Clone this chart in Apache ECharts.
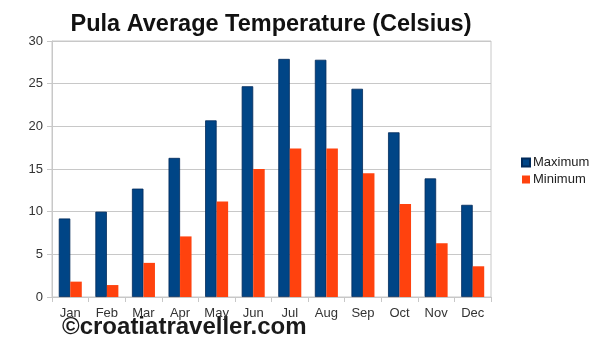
<!DOCTYPE html>
<html><head><meta charset="utf-8">
<script src="https://cdn.jsdelivr.net/npm/echarts@6/dist/echarts.min.js"></script>
<style>html,body{margin:0;padding:0;background:#fff}#c{width:600px;height:345px}</style>
</head><body><div id="c"></div>
<script>
var months = ['Jan','Feb','Mar','Apr','May','Jun','Jul','Aug','Sep','Oct','Nov','Dec'];
var maxTemp = [9.2, 10.0, 12.7, 16.3, 20.7, 24.7, 27.9, 27.8, 24.4, 19.3, 13.9, 10.8];
var minTemp = [1.8, 1.4, 4.0, 7.1, 11.2, 15.0, 17.4, 17.4, 14.5, 10.9, 6.3, 3.6];
var yTicks = [0, 5, 10, 15, 20, 25, 30];

var chart = echarts.init(document.getElementById('c'), null, {renderer:'canvas'});
chart.setOption({
  animation:false,
  backgroundColor:'#fff',
  title:{text:'Pula Average Temperature (Celsius)', left:266, top:8, textAlign:'center',
    textStyle:{fontFamily:'Liberation Sans', fontWeight:'bold', fontSize:23.5, color:'#111'}},
  graphic:[{type:'text', left:62, top:315, style:{text:'\u00a9croatiatraveller.com',
    font:'bold 24px "Liberation Sans"', fill:'#1a1a1a'}}],
  legend:{orient:'vertical', left:516, top:151, itemWidth:8, itemHeight:8, itemGap:4,
    icon:'rect', textStyle:{fontFamily:'Liberation Sans', fontSize:13, color:'#222', padding:[0,0,0,-2]},
    data:['Maximum','Minimum']},
  grid:{left:52, right:109, top:41, bottom:48, show:true, borderColor:'#c8c8c8', borderWidth:1},
  xAxis:{type:'category', data:months,
    axisLine:{lineStyle:{color:'#c8c8c8'}},
    axisTick:{show:true, length:5, lineStyle:{color:'#c8c8c8'}},
    axisLabel:{fontFamily:'Liberation Sans', fontSize:13, color:'#333', margin:10}},
  yAxis:{type:'value', min:yTicks[0], max:yTicks[yTicks.length-1], interval:5,
    axisLine:{show:true, lineStyle:{color:'#c8c8c8'}},
    axisTick:{show:true, length:5, lineStyle:{color:'#c8c8c8'}},
    splitLine:{lineStyle:{color:'#c8c8c8'}},
    axisLabel:{fontFamily:'Liberation Sans', fontSize:13, color:'#333', margin:9}},
  series:[
    {name:'Maximum', type:'bar', data:maxTemp, barWidth:11.5, barGap:'0%',
      itemStyle:{color:'#004586', borderColor:'#002a5a', borderWidth:0.8}},
    {name:'Minimum', type:'bar', data:minTemp, barWidth:11.5,
      itemStyle:{color:'#ff420e', borderColor:'#ff420e', borderWidth:0}}
  ]
});
</script></body></html>
